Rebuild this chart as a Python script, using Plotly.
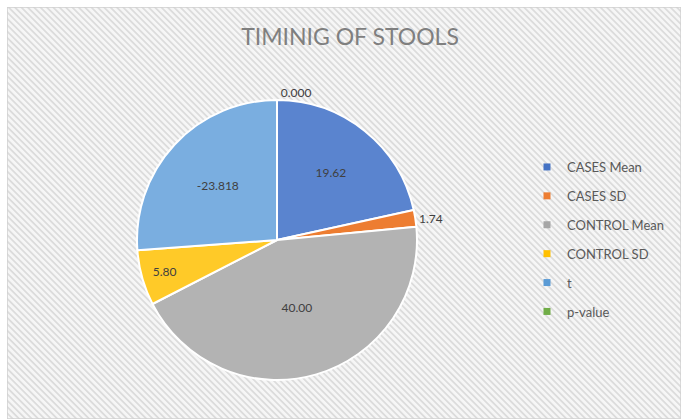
import base64
import plotly.graph_objects as go

# ---- data ----
categories = ["CASES Mean", "CASES SD", "CONTROL Mean", "CONTROL SD", "t", "p-value"]
values = [19.62, 1.74, 40.00, 5.80, -23.818, 0.000]
decimals = [2, 2, 2, 2, 3, 3]
title_text = "TIMINIG OF STOOLS"

# ---- styles ----
slice_colors = ["#5a84cf", "#ed7d31", "#b3b3b3", "#ffca28", "#7aaee0", "#70ad47"]
legend_colors = ["#4472c4", "#ed7d31", "#a5a5a5", "#ffc000", "#5b9bd5", "#70ad47"]
text_positions = ["inside", "outside", "inside", "inside", "inside", "outside"]
FONT = "Lato, 'Open Sans', sans-serif"

W, H = 681, 419

label_text = [f"{v:.{d}f}" for v, d in zip(values, decimals)]
abs_values = [abs(v) for v in values]

fig = go.Figure()
fig.add_trace(go.Pie(
    labels=categories,
    values=abs_values,
    customdata=label_text,
    texttemplate="%{customdata}",
    textposition=text_positions,
    sort=False,
    direction="clockwise",
    rotation=0,
    marker=dict(colors=slice_colors, line=dict(color="white", width=2)),
    insidetextfont=dict(family=FONT, size=12, color="#404040"),
    outsidetextfont=dict(family=FONT, size=12, color="#404040"),
    insidetextorientation="horizontal",
    domain=dict(x=[137 / W, 417 / W], y=[(H - 381) / H, (H - 99) / H]),
    showlegend=False,
    hoverinfo="label+text",
))

for i, (name, col) in enumerate(zip(categories, legend_colors)):
    fig.add_trace(go.Scatter(
        x=[None], y=[None], mode="markers", name=name,
        legendgroup=f"g{i}",
        marker=dict(symbol="square", size=7, color=col),
    ))

# striped background
pat = (
    f'<svg xmlns="http://www.w3.org/2000/svg" width="{W-7}" height="{H-7}">'
    '<defs><pattern id="p" width="4.5" height="4.5" patternUnits="userSpaceOnUse" '
    'patternTransform="rotate(-45)">'
    '<rect width="4.5" height="4.5" fill="#f6f6f6"/>'
    '<rect width="1.8" height="4.5" fill="#dcdcdc"/>'
    '</pattern></defs>'
    f'<rect x="0" y="0" width="{W-7}" height="{H-7}" fill="url(#p)" stroke="#d0d0d0" stroke-width="1.5"/>'
    '</svg>'
)
src = "data:image/svg+xml;base64," + base64.b64encode(pat.encode()).decode()

fig.update_layout(
    width=W, height=H,
    margin=dict(l=0, r=0, t=0, b=0),
    paper_bgcolor="white",
    plot_bgcolor="rgba(0,0,0,0)",
    title=dict(text=title_text, x=350 / W, xanchor="center", y=1 - 37 / H, yanchor="middle",
               font=dict(family=FONT, size=23, color="#7f7f7f")),
    xaxis=dict(visible=False),
    yaxis=dict(visible=False),
    legend=dict(x=527 / W, xanchor="left", y=1 - 152 / H, yanchor="top",
                traceorder="grouped", tracegroupgap=9,
                font=dict(family=FONT, size=13, color="#595959"),
                bgcolor="rgba(0,0,0,0)", itemwidth=30),
    images=[dict(source=src, xref="paper", yref="paper", x=7 / W, y=1 - 7 / H,
                 sizex=(W - 7) / W, sizey=(H - 7) / H, xanchor="left", yanchor="top",
                 sizing="stretch", layer="below")],
)

fig.write_html(
    "out.html",
    config={"displayModeBar": False},
    post_script="document.body.style.margin='0';document.body.style.overflow='hidden';",
)
